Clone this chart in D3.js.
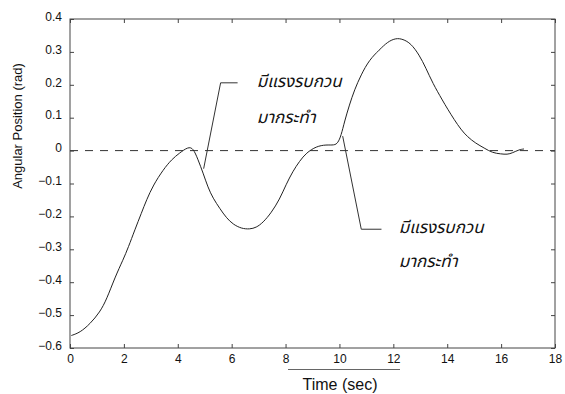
<!DOCTYPE html>
<html>
<head>
<meta charset="utf-8">
<script src="https://cdn.jsdelivr.net/npm/d3@7"></script>
<style>
  html, body { margin: 0; padding: 0; background: #fff; }
  svg { display: block; }
  text { font-family: "Liberation Sans", Arial, sans-serif; fill: #111; }
  .thai { font-family: "Noto Sans Thai", "DejaVu Sans", "Noto Sans", sans-serif; font-style: italic; }
</style>
</head>
<body>
<svg id="chart" width="565" height="394"></svg>
<script>
// Simulated angular response of the system (time in seconds, angle in radians)
const timeSec = [0.05, 0.37, 0.74, 1.11, 1.36, 1.67, 1.98, 2.16, 2.41, 2.65, 2.84, 3.09, 3.46, 3.77, 4.07,
  4.38, 4.57, 4.75, 4.94, 5.12, 5.31, 5.56, 5.8, 6.05, 6.36, 6.67, 6.91, 7.16, 7.47, 7.78, 8.02, 8.27,
  8.52, 8.77, 9.14, 9.51, 9.81, 9.94, 10.06, 10.19, 10.37, 10.56, 10.8, 11.11, 11.48, 11.79, 12.1,
  12.35, 12.65, 12.96, 13.21, 13.46, 13.83, 14.01, 14.26, 14.51, 14.75, 15.06, 15.37, 15.68, 15.99,
  16.23, 16.42, 16.67, 16.85];
const angleRad = [-0.562, -0.553, -0.527, -0.491, -0.452, -0.385, -0.33, -0.295, -0.24, -0.19, -0.15, -0.105, -0.058, -0.027, -0.007,
  0.011, 0.008, -0.027, -0.068, -0.112, -0.145, -0.176, -0.204, -0.224, -0.237, -0.239, -0.234, -0.219, -0.189, -0.148, -0.103, -0.063,
  -0.032, -0.007, 0.013, 0.018, 0.016, 0.023, 0.045, 0.089, 0.139, 0.185, 0.23, 0.276, 0.306, 0.331, 0.342,
  0.339, 0.326, 0.291, 0.251, 0.205, 0.152, 0.127, 0.094, 0.064, 0.042, 0.022, 0.008, -0.007, -0.01,
  -0.012, -0.007, 0.003, 0.005];

const xTicks = [0, 2, 4, 6, 8, 10, 12, 14, 16, 18];
const yTicks = [0.4, 0.3, 0.2, 0.1, 0, -0.1, -0.2, -0.3, -0.4, -0.5, -0.6];

// Disturbance annotations: leader line points [time, angle] and label lines
const disturbanceLabel = ["มีแรงรบกวน", "มากระทำ"];
const disturbance1 = [[4.96, -0.055], [5.59, 0.206], [6.22, 0.206]];
const disturbance2 = [[10.12, 0.044], [10.81, -0.239], [11.56, -0.239]];

const W = 565, H = 394;
const m = { top: 19, right: 10, bottom: 46, left: 70 };
const svg = d3.select("#chart");

const x = d3.scaleLinear().domain([0, 18]).range([m.left, W - m.right]);
const y = d3.scaleLinear().domain([-0.6, 0.4]).range([H - m.bottom, m.top]);

const g = svg.append("g");

// Frame
g.append("rect")
  .attr("x", x(0)).attr("y", y(0.4))
  .attr("width", x(18) - x(0)).attr("height", y(-0.6) - y(0.4))
  .attr("fill", "none").attr("stroke", "#444").attr("stroke-width", 1);

// Zero reference line
g.append("line")
  .attr("x1", x(0)).attr("x2", x(18)).attr("y1", y(0)).attr("y2", y(0))
  .attr("stroke", "#333").attr("stroke-width", 1).attr("stroke-dasharray", "8,7");

// Axes with inward ticks on all four sides
const tickLen = 4;
const bottomAxis = d3.axisBottom(x).tickValues(xTicks).tickSize(-tickLen).tickPadding(6).tickFormat(d3.format("d"));
const leftAxis = d3.axisLeft(y).tickValues(yTicks).tickSize(-tickLen).tickPadding(8)
  .tickFormat(d => d === 0 ? "0" : d3.format(".1f")(d));
const topAxis = d3.axisTop(x).tickValues(xTicks).tickSize(-tickLen).tickFormat("");
const rightAxis = d3.axisRight(y).tickValues(yTicks).tickSize(-tickLen).tickFormat("");

function styleAxis(sel) {
  sel.select(".domain").remove();
  sel.selectAll(".tick line").attr("stroke", "#444");
  sel.selectAll(".tick text").attr("font-size", 12).attr("fill", "#111")
    .style("font-family", "'Liberation Sans', Arial, sans-serif");
}

g.append("g").attr("transform", `translate(0,${y(-0.6)})`).call(bottomAxis).call(styleAxis);
g.append("g").attr("transform", `translate(${x(0)},0)`).call(leftAxis).call(styleAxis)
  .selectAll(".tick text").attr("dy", "0.1em");
g.append("g").attr("transform", `translate(0,${y(0.4)})`).call(topAxis).call(styleAxis);
g.append("g").attr("transform", `translate(${x(18)},0)`).call(rightAxis).call(styleAxis);

// Response curve
const line = d3.line()
  .x((d, i) => x(timeSec[i]))
  .y((d, i) => y(angleRad[i]))
  .curve(d3.curveBasis);
g.append("path")
  .datum(timeSec)
  .attr("d", line)
  .attr("fill", "none").attr("stroke", "#222").attr("stroke-width", 1);

// Leader lines for the disturbances
const leader = d3.line().x(d => x(d[0])).y(d => y(d[1]));
[disturbance1, disturbance2].forEach(pts => {
  g.append("path").attr("d", leader(pts))
    .attr("fill", "none").attr("stroke", "#333").attr("stroke-width", 1);
});

// Annotation labels
function addLabel(tx, v1, v2) {
  g.append("text").attr("class", "thai").attr("x", x(tx)).attr("y", y(v1))
    .attr("font-size", 17).text(disturbanceLabel[0]);
  g.append("text").attr("class", "thai").attr("x", x(tx)).attr("y", y(v2))
    .attr("font-size", 17).text(disturbanceLabel[1]);
}
addLabel(6.93, 0.194, 0.085);
addLabel(12.2, -0.25, -0.355);

// Axis titles
svg.append("text")
  .attr("transform", `translate(22,126) rotate(-90)`)
  .attr("text-anchor", "middle").attr("font-size", 13)
  .text("Angular Position (rad)");

svg.append("line")
  .attr("x1", 288).attr("x2", 400).attr("y1", 369.5).attr("y2", 369.5)
  .attr("stroke", "#666").attr("stroke-width", 1);
svg.append("text")
  .attr("x", 340).attr("y", 390).attr("text-anchor", "middle")
  .attr("font-size", 16).text("Time (sec)");
</script>
</body>
</html>
